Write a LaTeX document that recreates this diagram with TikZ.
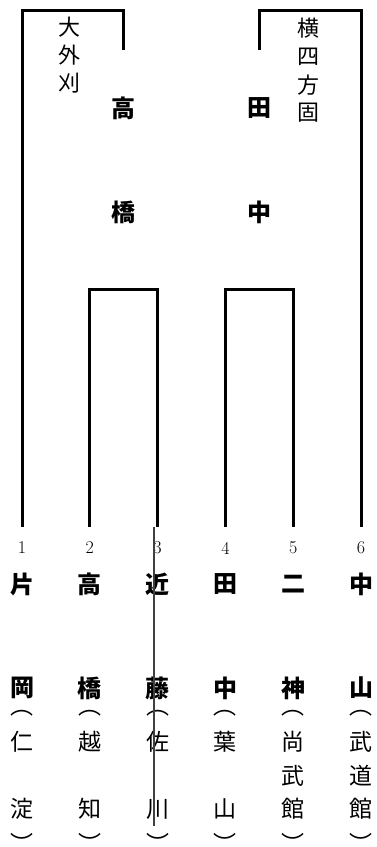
\documentclass[tikz,border=0pt]{standalone}
\usepackage{fontspec}
\newfontfamily\cjk{Noto Sans CJK JP}
\begin{document}
\begin{tikzpicture}[x=1pt, y=-1pt, line join=miter, line cap=butt]
			\useasboundingbox (0,0) rectangle (376,847);
			\tikzset{
				bout/.style={line width=3pt},
				player/.style={inner sep=0pt, font=\cjk\bfseries\fontsize{24}{24}\selectfont},
				club/.style={inner sep=0pt, font=\cjk\fontsize{23}{23}\selectfont},
				waza/.style={inner sep=0pt, font=\cjk\fontsize{22}{22}\selectfont},
				num/.style={inner sep=0pt, font=\fontsize{18}{18}\selectfont}
			}
			\def \dx{67.8}
			\def \yfoot{527}
			% --- players
			\foreach \i/\fa/\fb/\ca/\cb/\cc in {1/片/岡/仁//淀, 2/高/橋/越//知, 3/近/藤/佐//川, 4/田/中/葉//山, 5/二/神/尚/武/館, 6/中/山/武/道/館} {
				\coordinate (foot\i) at ({22+\dx*(\i-1)},\yfoot);
				\node[num] (num\i) at ({22+\dx*(\i-1)},548) {\i};
				\node[player] (fam\i) at ({22+\dx*(\i-1)},584) {\fa};
				\node[player] (giv\i) at ({22+\dx*(\i-1)},688) {\fb};
				\node[club] (open\i) at ({22+\dx*(\i-1)},713) {︵};
				\node[club] (cla\i) at ({22+\dx*(\i-1)},742) {\ca};
				\node[club] (clb\i) at ({22+\dx*(\i-1)},776) {\cb};
				\node[club] (clc\i) at ({22+\dx*(\i-1)},809) {\cc};
				\node[club, anchor=north] (close\i) at ({22+\dx*(\i-1)},833) {︶};
			}
			% --- first round
			\coordinate (m23) at ({22+\dx*1.5},289);
			\coordinate (m45) at ({22+\dx*3.5},289);
			\draw[bout] (foot2) |- (m23) -| (foot3);
			\draw[bout] (foot4) |- (m45) -| (foot5);
			% --- final
			\coordinate (drop23) at ({22+\dx*1.5},50);
			\coordinate (top23) at ({22+\dx*1.5},10);
			\coordinate (drop45) at ({22+\dx*3.5},50);
			\coordinate (top45) at ({22+\dx*3.5},10);
			\draw[bout] (drop23) -- (top23) -| (foot1);
			\draw[bout] (drop45) -- (top45) -| (foot6);
			% --- winners
			\node[player] (winL1) at ({22+\dx*1.5},108) {高};
			\node[player] (winL2) at ({22+\dx*1.5},212) {橋};
			\node[player] (winR1) at ({22+\dx*3.5},108) {田};
			\node[player] (winR2) at ({22+\dx*3.5},212) {中};
			% --- techniques
			\node[waza] (wazaL1) at (69,27) {大};
			\node[waza] (wazaL2) at (69,55) {外};
			\node[waza] (wazaL3) at (69,83) {刈};
			\node[waza] (wazaR1) at (308,28) {横};
			\node[waza] (wazaR2) at (308,57) {四};
			\node[waza] (wazaR3) at (308,85) {方};
			\node[waza] (wazaR4) at (308,113) {固};
			% --- stray line
			\coordinate (markA) at (154,527);
			\coordinate (markB) at (154,826);
			\draw[line width=1.2pt, black!75] (markA) -- (markB);
\end{tikzpicture}
\end{document}
